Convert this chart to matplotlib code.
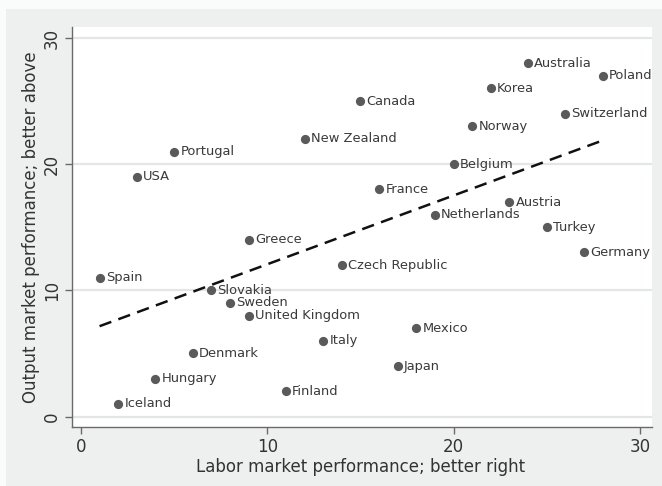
import numpy as np
import matplotlib
matplotlib.use("Agg")
import matplotlib.pyplot as plt
from matplotlib.patches import Rectangle

countries = ["Australia", "Poland", "Korea", "Canada", "Switzerland", "Norway",
             "New Zealand", "Portugal", "Belgium", "USA", "France", "Austria",
             "Netherlands", "Turkey", "Greece", "Germany", "Czech Republic", "Spain",
             "Slovakia", "Sweden", "United Kingdom", "Mexico", "Italy", "Denmark",
             "Japan", "Hungary", "Finland", "Iceland"]
labor = [24, 28, 22, 15, 26, 21, 12, 5, 20, 3, 16, 23, 19, 25, 9, 27, 14, 1,
         7, 8, 9, 18, 13, 6, 17, 4, 11, 2]
output = [28, 27, 26, 25, 24, 23, 22, 21, 20, 19, 18, 17, 16, 15, 14, 13, 12, 11,
          10, 9, 8, 7, 6, 5, 4, 3, 2, 1]
xticks = [0, 10, 20, 30]
yticks = [0, 10, 20, 30]

W, H = 662, 486
plt.rcParams['font.family'] = ['DejaVu Sans']
fig = plt.figure(figsize=(W/100, H/100), dpi=100, facecolor='#fafbfb')
fig.patches.append(Rectangle((6/W, -0.01), 1, 1.01 - 9/H, transform=fig.transFigure,
                             facecolor='#eef0ef', edgecolor='none', zorder=-10))
ax = fig.add_axes([72/W, 1-427/H, (652-72)/W, (427-27)/H])
ax.set_facecolor('white')

for yv in yticks:
    ax.axhline(yv, color='#e4e6e6', lw=1.6, zorder=0)

ax.scatter(labor, output, s=44, color='#5a5a5a', zorder=3, linewidths=0)
for c, x, y in zip(countries, labor, output):
    ax.annotate(c, (x, y), xytext=(4.5, 0), textcoords='offset points',
                va='center', ha='left', fontsize=9.4, color='#3a3a3a')

coef = np.polyfit(labor, output, 1)
xs = np.array([min(labor), max(labor)])
ax.plot(xs, np.polyval(coef, xs), ls=(0, (5, 3)), color='#111111', lw=1.8, zorder=2)

ax.set_xlim(-0.48, 30.65)
ax.set_ylim(-0.83, 30.87)
ax.set_xticks(xticks)
ax.set_yticks(yticks)
ax.set_yticklabels([str(v) for v in yticks], rotation=90, va='center')
for s in ['top', 'right']:
    ax.spines[s].set_visible(False)
for s in ['left', 'bottom']:
    ax.spines[s].set_color('#6a6a6a')
    ax.spines[s].set_linewidth(1.0)
ax.tick_params(axis='both', colors='#6a6a6a', labelcolor='#333333', labelsize=12, length=5, width=1)
ax.tick_params(axis='x', pad=3)
ax.tick_params(axis='y', pad=3)
ax.set_xlabel("Labor market performance; better right", fontsize=12, color='#333333')
ax.xaxis.set_label_coords((361 - 72) / (652 - 72), -(467 - 427) / (427 - 27))
ax.xaxis.label.set_va('center')
ax.set_ylabel("Output market performance; better above", fontsize=12, color='#333333')
ax.yaxis.set_label_coords(-(72 - 31) / (652 - 72), 0.5)
ax.yaxis.label.set_va('center')

fig.savefig("out.png", dpi=100, facecolor=fig.get_facecolor())
